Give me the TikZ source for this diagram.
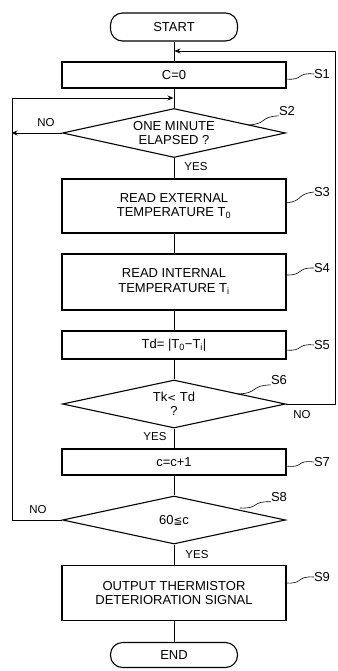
\documentclass[tikz,border=0pt]{standalone}
\usepackage{fontspec}
\setmainfont{Liberation Sans}
\newfontfamily\symf{DejaVu Sans}
\usetikzlibrary{shapes.geometric,calc,arrows.meta}
\tikzset{
  base/.style={draw, line width=1.1pt, align=center, font=\fontsize{13}{14.5}\selectfont, inner sep=0pt},
  procbox/.style={base, rectangle, minimum width=224pt},
  term/.style={base, rectangle, rounded corners=12pt, minimum width=127pt},
  decide/.style={base, diamond, minimum width=223pt, minimum height=49pt, aspect=4.5},
  conn/.style={line width=0.9pt},
  arr/.style={conn, -{Stealth[length=6pt,width=5pt]}},
  lab/.style={font=\fontsize{13}{14}\selectfont, inner sep=0pt},
  small/.style={font=\fontsize{11.5}{12}\selectfont, inner sep=0pt},
  wig/.style={line width=0.6pt}
}
\newcommand{\wiggle}[2]{\draw[wig] (#1) .. controls ($(#1)!0.65!(#2)+(0,5)$) and ($(#1)!0.35!(#2)+(0,-5)$) .. (#2);}
\begin{document}
\begin{tikzpicture}[x=1pt,y=-1pt]
\useasboundingbox (0,0) rectangle (337,671);
\fill[white] (0,0) rectangle (337,671);

\node[term, minimum height=28pt] (start) at (174,27) {START};
\node[procbox, minimum height=26pt] (b1) at (174,75) {C=0};
\node[decide] (d2) at (174,133) {ONE MINUTE\\ELAPSED ?};
\node[procbox, minimum height=54pt] (b3) at (174,206) {READ EXTERNAL\\TEMPERATURE T\textsubscript{0}};
\node[procbox, minimum height=56pt] (b4) at (174,282) {READ INTERNAL\\TEMPERATURE T\textsubscript{i}};
\node[procbox, minimum height=28pt] (b5) at (174,345) {Td= |T\textsubscript{0}−T\textsubscript{i}|};
\node[decide, minimum height=48pt] (d6) at (174,404) {Tk{\symf\fontsize{10.5}{12}\selectfont<} Td\\?};
\node[procbox, minimum height=26pt] (b7) at (174,462) {c=c+1};
\node[decide, minimum height=48pt] (d8) at (174,520) {60{\symf\fontsize{10.5}{12}\selectfont≦}c};
\node[procbox, minimum height=55pt] (b9) at (174,593) {OUTPUT THERMISTOR\\DETERIORATION SIGNAL};
\node[term, minimum height=25pt] (end) at (174,655) {END};

% main flow
\draw[conn] (start) -- (b1);
\draw[conn] (b1) -- (d2);
\draw[conn] (d2) -- (b3);
\draw[conn] (b3) -- (b4);
\draw[conn] (b4) -- (b5);
\draw[conn] (b5) -- (d6);
\draw[conn] (d6) -- (b7);
\draw[conn] (b7) -- (d8);
\draw[conn] (d8) -- (b9);
\draw[conn] (b9) -- (end);

% loops
\coordinate (rx) at (335.5,404);
\coordinate (jr) at (174.5,51);
\draw[arr] (d6.east) -- (rx) |- (jr);
\coordinate (lb) at (12,520);
\coordinate (jl) at (173.5,98);
\draw[arr] (d8.west) -- (lb) |- (jl);
\coordinate (l2) at (11.5,133);
\draw[arr] (d2.west) -- (l2);

% branch labels
\node[small] (no2) at (46,123) {NO};
\node[small] (yes2) at (196,167) {YES};
\node[small] (no6) at (302,415) {NO};
\node[small] (yes6) at (155,437) {YES};
\node[small] (no8) at (38,510) {NO};
\node[small] (yes8) at (197,555) {YES};

% step labels
\node[lab] (s1) at (322,74) {S1};
\node[lab] (s2) at (287,111) {S2};
\node[lab] (s3) at (322,192) {S3};
\node[lab] (s4) at (322,268) {S4};
\node[lab] (s5) at (322,345) {S5};
\node[lab] (s6) at (279,380) {S6};
\node[lab] (s7) at (322,462) {S7};
\node[lab] (s8) at (279,497) {S8};
\node[lab] (s9) at (322,577) {S9};

\coordinate (w1a) at (286,79); \coordinate (w1b) at (s1.west);
\coordinate (w2a) at (248,125); \coordinate (w2b) at (s2.south west);
\coordinate (w3a) at (286,203); \coordinate (w3b) at (s3.west);
\coordinate (w4a) at (286,275); \coordinate (w4b) at (s4.west);
\coordinate (w5a) at (286,350); \coordinate (w5b) at (s5.west);
\coordinate (w6a) at (238,394); \coordinate (w6b) at (s6.south west);
\coordinate (w7a) at (286,466); \coordinate (w7b) at (s7.west);
\coordinate (w8a) at (240,508); \coordinate (w8b) at (s8.south west);
\coordinate (w9a) at (286,583); \coordinate (w9b) at (s9.west);
\wiggle{w1a}{w1b}
\wiggle{w2a}{w2b}
\wiggle{w3a}{w3b}
\wiggle{w4a}{w4b}
\wiggle{w5a}{w5b}
\wiggle{w6a}{w6b}
\wiggle{w7a}{w7b}
\wiggle{w8a}{w8b}
\wiggle{w9a}{w9b}
\end{tikzpicture}
\end{document}
